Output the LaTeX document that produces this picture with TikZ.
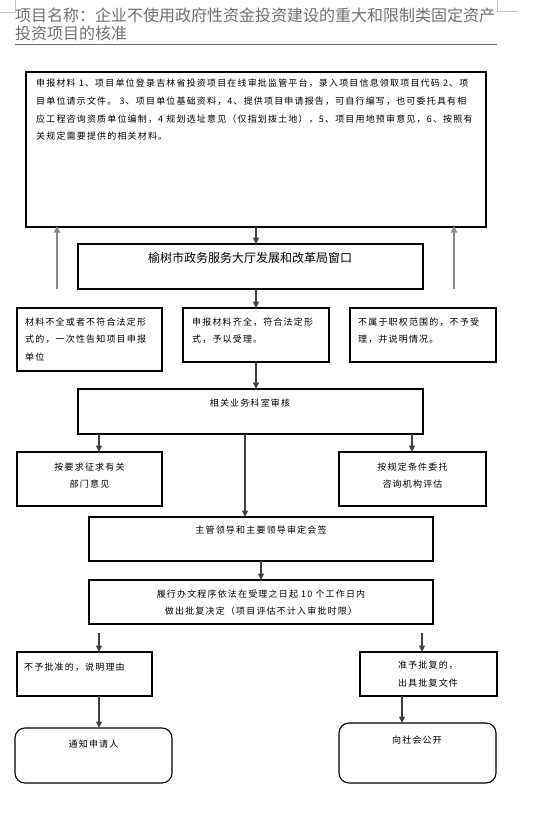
\documentclass[tikz,border=0pt]{standalone}
\usepackage{fontspec}
\usetikzlibrary{arrows.meta}
\newfontfamily\cjk[LetterSpace=13]{Noto Sans CJK SC}
\newfontfamily\cjkn{Noto Sans CJK SC}
\definecolor{titlegrey}{HTML}{707070}
\definecolor{framegrey}{HTML}{C8C8C8}
\definecolor{conngrey}{HTML}{404040}
\definecolor{upgrey}{HTML}{8A8A8A}
\tikzset{
  box/.style={draw=black, line width=1.1pt, inner sep=0pt, outer sep=0pt, anchor=north west},
  rbox/.style={box, rounded corners=10pt},
  small/.style={inner sep=0pt, font=\cjk\fontsize{9}{10}\selectfont, text=black},
  smallw/.style={small, anchor=west},
  conn/.style={draw=conngrey, line width=1.3pt, -{Triangle[length=6.5pt,width=6pt]}},
  upconn/.style={draw=upgrey, line width=1.8pt, -{Triangle[length=6.5pt,width=6pt]}, shorten >=-1pt},
}
\begin{document}
\begin{tikzpicture}[x=1pt,y=-1pt]
\useasboundingbox (0,0) rectangle (535,821);
% title frame
\draw[framegrey, line width=0.8pt] (0,12) -- (15,12) -- (15,0);
\draw[framegrey, line width=0.8pt] (497,0) -- (497,11) -- (518,11);
\node[anchor=west, inner sep=0pt, text=titlegrey, font=\cjkn\fontsize{16}{18}\selectfont] (t1) at (15,15) {项目名称：企业不使用政府性资金投资建设的重大和限制类固定资产};
\node[anchor=west, inner sep=0pt, text=titlegrey, font=\cjkn\fontsize{16}{18}\selectfont] (t2) at (15,33) {投资项目的核准};
\draw[titlegrey, line width=1pt] (15,45) -- (497,45);

% big top box
\node[box, minimum width=460pt, minimum height=155pt] (top) at (26,72) {};
\node[smallw] (tl1) at (36,83) {申报材料 1、项目单位登录吉林省投资项目在线审批监管平台，录入项目信息领取项目代码 2、项};
\node[smallw] (tl2) at (36,101) {目单位请示文件。 3、项目单位基础资料，4、提供项目申请报告，可自行编写，也可委托具有相};
\node[smallw] (tl3) at (36,119) {应工程咨询资质单位编制，4 规划选址意见（仅指划拨土地），5、项目用地预审意见，6、按照有};
\node[smallw] (tl4) at (36,136) {关规定需要提供的相关材料。};

% window box
\node[box, minimum width=345pt, minimum height=45pt] (win) at (78,244) {};
\node[inner sep=0pt, font=\cjkn\fontsize{12}{14}\selectfont] (wint) at (250,258) {榆树市政务服务大厅发展和改革局窗口};

% three boxes
\node[box, minimum width=145pt, minimum height=63pt] (lb) at (17,308) {};
\node[smallw] (lb1) at (25,322) {材料不全或者不符合法定形};
\node[smallw] (lb2) at (25,339) {式的，一次性告知项目申报};
\node[smallw] (lb3) at (25,357) {单位};
\node[box, minimum width=146pt, minimum height=54pt] (mb) at (183,308) {};
\node[smallw] (mb1) at (192,322) {申报材料齐全，符合法定形};
\node[smallw] (mb2) at (192,339) {式，予以受理。};
\node[box, minimum width=146pt, minimum height=54pt] (rb) at (350,308) {};
\node[smallw] (rb1) at (358,322) {不属于职权范围的，不予受};
\node[smallw] (rb2) at (358,339) {理，并说明情况。};

% review box
\node[box, minimum width=345pt, minimum height=45pt] (rev) at (78,389) {};
\node[small] (revt) at (250,403) {相关业务科室审核};

\node[box, minimum width=145pt, minimum height=54pt] (opl) at (17,452) {};
\node[small] (opl1) at (89.5,467) {按要求征求有关};
\node[small] (opl2) at (89.5,484) {部门意见};
\node[box, minimum width=147pt, minimum height=54pt] (opr) at (339,452) {};
\node[small] (opr1) at (412.5,467) {按规定条件委托};
\node[small] (opr2) at (412.5,484) {咨询机构评估};

% leaders
\node[box, minimum width=344pt, minimum height=44pt] (lead) at (89,517) {};
\node[small] (leadt) at (261,530) {主管领导和主要领导审定会签};
\node[box, minimum width=344pt, minimum height=44pt] (dec) at (89,580) {};
\node[small] (dec1) at (261,594) {履行办文程序依法在受理之日起 10 个工作日内};
\node[small] (dec2) at (261,611) {做出批复决定（项目评估不计入审批时限）};

% results
\node[box, minimum width=135pt, minimum height=44pt] (no) at (17,652) {};
\node[smallw] (not) at (24,667) {不予批准的，说明理由};
\node[box, minimum width=137pt, minimum height=44pt] (yes) at (360,652) {};
\node[small] (yes1) at (428,665) {准予批复的，};
\node[small] (yes2) at (428,683) {出具批复文件};

\node[rbox, minimum width=157pt, minimum height=55pt] (notify) at (15,728) {};
\node[small] (notifyt) at (93.5,744) {通知申请人};
\node[rbox, minimum width=157pt, minimum height=60pt] (pub) at (339,723) {};
\node[small] (pubt) at (417,740) {向社会公开};

% column coordinates
\coordinate (cL) at (57,289);
\coordinate (cR) at (454,289);
\coordinate (c99) at (99,0);
\coordinate (c412) at (412,0);
\coordinate (c245) at (245,0);
\coordinate (c261) at (261,0);
\coordinate (sL) at (99,633);
\coordinate (sR) at (422,633);
\coordinate (c402) at (402,0);

% connectors
\draw[upconn] (cL) -- (top.south -| cL);
\draw[upconn] (cR) -- (top.south -| cR);
\draw[conn] (top.south) -- (win.north -| top.south);
\draw[conn] (win.south -| mb.north) -- (mb.north);
\draw[conn] (mb.south) -- (rev.north -| mb.south);
\draw[conn] (rev.south -| c99) -- (opl.north -| c99);
\draw[conn] (rev.south -| c412) -- (opr.north -| c412);
\draw[conn] (rev.south -| c245) -- (lead.north -| c245);
\draw[conn] (lead.south -| c261) -- (dec.north -| c261);
\draw[conn] (sL) -- (no.north -| sL);
\draw[conn] (sR) -- (yes.north -| sR);
\draw[conn] (no.south -| sL) -- (notify.north -| sL);
\draw[conn] (yes.south -| c402) -- (pub.north -| c402);
\end{tikzpicture}
\end{document}
